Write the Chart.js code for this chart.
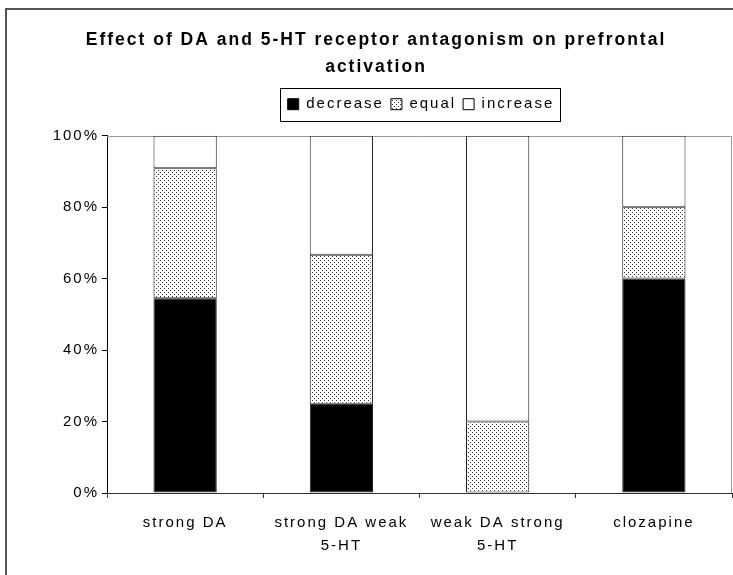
<!DOCTYPE html>
<html>
<head>
<meta charset="utf-8">
<script src="https://cdn.jsdelivr.net/npm/chart.js@4.4.1/dist/chart.umd.min.js"></script>
<style>
  html, body { margin: 0; padding: 0; background: #fff; overflow: hidden; }
  #wrap { position: relative; width: 733px; height: 575px; overflow: hidden; }
  #myChart { position: absolute; left: 0; top: 0; }
  #frame { position: absolute; left: 5px; top: 8px; width: 780px; height: 620px; border: 2px solid #555; pointer-events: none; }
</style>
</head>
<body>
<div id="wrap">
  <canvas id="myChart" width="733" height="575"></canvas>
  <div id="frame"></div>
</div>
<script>
// Chart data (percent of each group)
let categories = [['strong DA'], ['strong DA weak', '5-HT'], ['weak DA strong', '5-HT'], ['clozapine']];
let decreaseData = [54.5, 25, 0, 60];
let equalData = [36.4, 41.7, 20, 20];
let increaseData = [9.1, 33.3, 80, 20];
let yTicks = [0, 20, 40, 60, 80, 100];

let canvas = document.getElementById('myChart');
let ctx = canvas.getContext('2d');

Chart.defaults.font.family = '"Liberation Sans", Arial, sans-serif';
Chart.defaults.color = '#000';

// dotted fill like the Excel "equal" pattern
function makeDots() {
    let c = document.createElement('canvas');
    c.width = 4;
    c.height = 4;
    let g = c.getContext('2d');
    g.fillStyle = '#fff';
    g.fillRect(0, 0, 4, 4);
    g.fillStyle = '#333';
    g.fillRect(0, 0, 1, 1);
    g.fillRect(2, 2, 1, 1);
    return ctx.createPattern(c, 'repeat');
}
let dots = makeDots();

// wide spaced text, gray plot border, legend frame
let extras = {
    id: 'extras',
    beforeUpdate(chart) {
        chart.ctx.letterSpacing = '2px';
    },
    afterLayout(chart) {
        let lg = chart.legend;
        lg.left += 55;
        lg.right += 55;
        lg.top -= 14;
        lg.bottom -= 14;
        let tb = chart.titleBlock;
        tb.left += 10;
        tb.right += 10;
    },
    beforeDraw(chart) {
        chart.ctx.letterSpacing = '2px';
    },
    beforeDatasetsDraw(chart) {
        let a = chart.chartArea;
        let c = chart.ctx;
        c.save();
        c.strokeStyle = '#999';
        c.lineWidth = 1;
        c.beginPath();
        c.moveTo(a.left, Math.round(a.top) + 0.5);
        c.lineTo(Math.round(a.right) - 0.5, Math.round(a.top) + 0.5);
        c.lineTo(Math.round(a.right) - 0.5, a.bottom);
        c.stroke();
        c.restore();
    },
    afterDraw(chart) {
        let hb = chart.legend.legendHitBoxes;
        if (!hb || !hb.length) return;
        let first = hb[0];
        let last = hb[hb.length - 1];
        let x1 = Math.round(first.left - 8) + 0.5;
        let x2 = Math.round(last.left + last.width + 6) + 0.5;
        let mid = first.top + first.height / 2;
        let y1 = Math.round(mid - 16) + 0.5;
        let y2 = Math.round(mid + 17) + 0.5;
        let c = chart.ctx;
        c.save();
        c.strokeStyle = '#000';
        c.lineWidth = 1;
        c.strokeRect(x1, y1, x2 - x1, y2 - y1);
        c.restore();
    }
};

let barStyle = {
    borderColor: '#222',
    borderWidth: 1,
    borderSkipped: false,
    barPercentage: 0.405,
    categoryPercentage: 1.0
};

new Chart(ctx, {
    type: 'bar',
    data: {
        labels: categories,
        datasets: [
            Object.assign({ label: 'decrease', data: decreaseData, backgroundColor: '#000' }, barStyle),
            Object.assign({ label: 'equal', data: equalData, backgroundColor: dots }, barStyle),
            Object.assign({ label: 'increase', data: increaseData, backgroundColor: '#fff' }, barStyle)
        ]
    },
    options: {
        responsive: false,
        animation: false,
        events: [],
        layout: { padding: { left: 0, right: 1, top: 0, bottom: 0 } },
        plugins: {
            title: {
                display: true,
                text: ['Effect of DA and 5-HT receptor antagonism on prefrontal', 'activation'],
                color: '#000',
                font: { size: 17.5, weight: 'bold', lineHeight: '27px' },
                padding: { top: 26.5, bottom: 23.2 }
            },
            legend: {
                display: true,
                position: 'top',
                labels: {
                    boxWidth: 11,
                    boxHeight: 11,
                    padding: 7,
                    color: '#000',
                    font: { size: 15 },
                    generateLabels(chart) {
                        return chart.data.datasets.map((ds, i) => ({
                            text: ds.label,
                            fillStyle: ds.backgroundColor,
                            strokeStyle: '#000',
                            lineWidth: 1,
                            hidden: false,
                            datasetIndex: i
                        }));
                    }
                }
            },
            tooltip: { enabled: false }
        },
        scales: {
            x: {
                stacked: true,
                grid: { offset: true, drawOnChartArea: false, tickLength: 5, color: '#333' },
                border: { color: '#333' },
                ticks: { font: { size: 15, lineHeight: 1.5 }, color: '#000', padding: 14, maxRotation: 0, autoSkip: false },
                afterFit(scale) { scale.height = 82; }
            },
            y: {
                stacked: true,
                min: 0,
                max: 100,
                grid: { drawOnChartArea: false, tickLength: 5, color: '#000' },
                border: { color: '#000' },
                afterBuildTicks(scale) { scale.ticks = yTicks.map(v => ({ value: v })); },
                ticks: { font: { size: 15 }, color: '#000', padding: 3, callback: v => v + '%' },
                afterFit(scale) { scale.width = 107; }
            }
        }
    },
    plugins: [extras]
});
</script>
</body>
</html>
